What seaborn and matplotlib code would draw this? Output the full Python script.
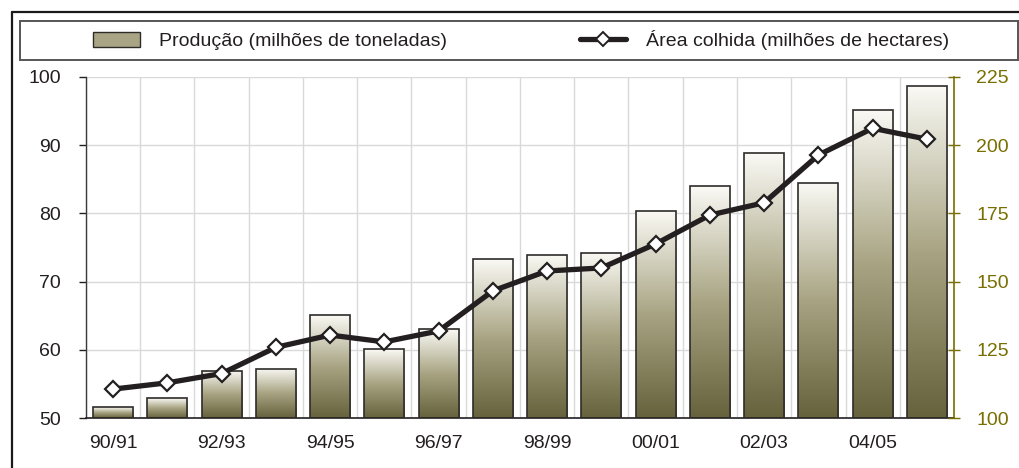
import numpy as np
import pandas as pd
import matplotlib
matplotlib.use('Agg')
import matplotlib.pyplot as plt
from matplotlib.colors import LinearSegmentedColormap
from matplotlib.patches import Patch, Rectangle
from matplotlib.lines import Line2D
import seaborn as sns

seasons = ['90/91', '91/92', '92/93', '93/94', '94/95', '95/96', '96/97', '97/98',
           '98/99', '99/00', '00/01', '01/02', '02/03', '03/04', '04/05', '05/06']
producao = [51.6, 52.9, 56.9, 57.2, 65.1, 60.1, 63.0, 73.3,
            73.9, 74.2, 80.4, 84.0, 88.8, 84.5, 95.2, 98.7]
area = [110.6, 112.9, 116.3, 125.9, 130.4, 127.9, 131.9, 146.6,
        153.9, 155.0, 163.8, 174.4, 178.9, 196.4, 206.2, 202.2]
tick_labels = ['90/91', '92/93', '94/95', '96/97', '98/99', '00/01', '02/03', '04/05']

lbl_bar = 'Produção (milhões de toneladas)'
lbl_line = 'Área colhida (milhões de hectares)'

sns.set_theme(style='white')
plt.rcParams['font.family'] = ['Liberation Sans', 'DejaVu Sans']
txt = '#231f20'
olive = '#786f00'
plt.rcParams['text.color'] = txt
fs = 14

df = pd.DataFrame({'safra': seasons, 'producao': producao, 'area': area})

fig = plt.figure(figsize=(10.2, 4.68), dpi=100)
ax = fig.add_axes([0.0843, 0.1068, 0.851, 0.7287])

sns.barplot(data=df, x='safra', y='producao', ax=ax, color='#a9a584',
            width=0.74, edgecolor='#2e2c2a', linewidth=1.2, zorder=2)

ymin, ymax = 50, 100
ax.set_ylim(ymin, ymax)

# gradient fill inside each bar (visible part only)
cmap = LinearSegmentedColormap.from_list('oliva', ['#66623c', '#a8a483', '#faf9f4'])
grad = np.linspace(0, 1, 256).reshape(-1, 1)
for p in ax.patches:
    x0 = p.get_x()
    w, h = p.get_width(), p.get_height()
    top = p.get_y() + h
    p.set_facecolor('none')
    p.set_zorder(3)
    im = ax.imshow(grad, extent=[x0, x0 + w, ymin, top], origin='lower',
                   aspect='auto', cmap=cmap, zorder=2.5)
    im.set_clip_path(p)

ax.set_xlim(-0.5, len(seasons) - 0.5)
ax.set_ylim(ymin, ymax)
ax.set_yticks([50, 60, 70, 80, 90, 100])
ax.set_xticks(np.arange(0, 16, 2))
ax.set_xticklabels(tick_labels)
ax.set_xticks(np.arange(-0.5, 16, 1), minor=True)
ax.set_xlabel('')
ax.set_ylabel('')
ax.grid(False)
ax.grid(axis='y', color='#d9d9d9', linewidth=1, zorder=0)
ax.grid(axis='x', which='minor', color='#d9d9d9', linewidth=1, zorder=0)
ax.set_axisbelow(True)
ax.tick_params(axis='x', which='major', length=0, pad=12, labelsize=fs, colors=txt)
ax.tick_params(axis='x', which='minor', length=8, direction='inout', width=1, color=txt)
ax.tick_params(axis='y', length=5, direction='out', width=1, pad=13, labelsize=fs,
               colors=txt, left=True)
for s in ['top', 'right']:
    ax.spines[s].set_visible(False)
ax.spines['left'].set_color('#3a3a3a')
ax.spines['bottom'].set_color(txt)
ax.spines['left'].set_linewidth(1)
ax.spines['bottom'].set_linewidth(1.2)

ax2 = ax.twinx()
sns.lineplot(x=np.arange(len(seasons)), y=area, ax=ax2, color=txt, linewidth=3.8,
             marker='D', markersize=8.5, markerfacecolor='white',
             markeredgecolor=txt, markeredgewidth=1.6, zorder=5)
ax2.set_ylim(100, 225)
ax2.set_yticks([100, 125, 150, 175, 200, 225])
ax2.set_xlim(-0.5, len(seasons) - 0.5)
ax2.tick_params(axis='y', length=8, direction='inout', width=1, pad=12, labelsize=fs,
                colors=olive, right=True)
for s in ['top', 'left', 'bottom']:
    ax2.spines[s].set_visible(False)
ax2.spines['right'].set_color(olive)
ax2.spines['right'].set_linewidth(1.2)
ax2.grid(False)

# outer frame (top and left edges)
fig.add_artist(Line2D([12 / 1020, 1.0], [1 - 12 / 468, 1 - 12 / 468],
                      transform=fig.transFigure, color='#1a1a1a', linewidth=1.6))
fig.add_artist(Line2D([12 / 1020, 12 / 1020], [0, 1 - 12 / 468],
                      transform=fig.transFigure, color='#1a1a1a', linewidth=1.6))
# legend box
fig.add_artist(Rectangle((20 / 1020, 1 - 60 / 468), 998 / 1020, 39 / 468,
                         transform=fig.transFigure, facecolor='white',
                         edgecolor='#555555', linewidth=1.4))

handles = [Patch(facecolor='#a9a584', edgecolor='#2e2c2a', linewidth=1.0),
           Line2D([], [], color=txt, linewidth=3.8, marker='D', markersize=7,
                  markerfacecolor='white', markeredgecolor=txt, markeredgewidth=1.4)]
fig.legend(handles, [lbl_bar, lbl_line], loc='center',
           bbox_to_anchor=(521 / 1020, 1 - 40 / 468), ncol=2, frameon=False,
           fontsize=fs, handlelength=2.4, handleheight=0.8, handletextpad=1.0,
           columnspacing=6.8, numpoints=1)

fig.savefig('out.png', dpi=100)
